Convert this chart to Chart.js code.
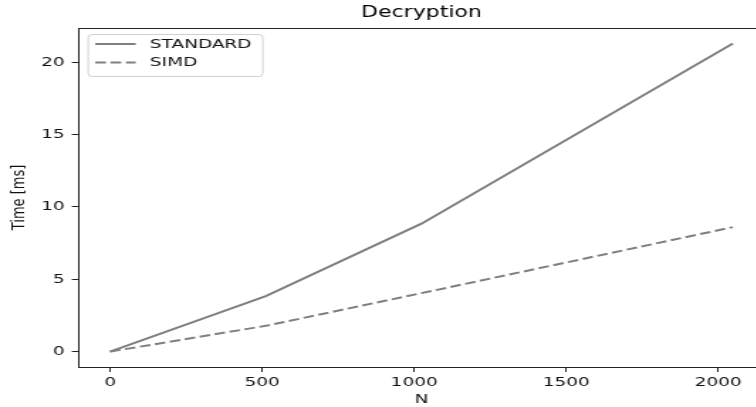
<!DOCTYPE html>
<html>
<head>
<meta charset="utf-8">
<script src="https://cdn.jsdelivr.net/npm/chart.js@4.4.1/dist/chart.umd.min.js"></script>
<style>
  html, body { margin: 0; padding: 0; background: #fff; overflow: hidden; }
  #wrap { width: 544px; height: 407px; transform: scaleX(1.42); transform-origin: 0 0; }
</style>
</head>
<body>
<div id="wrap"><canvas id="decChart" width="544" height="407"></canvas></div>
<script>
// Decryption timings
const nValues = [0, 512, 1024, 2048];
const standardMs = [0, 3.84, 8.84, 21.3];
const simdMs = [0, 1.78, 4.04, 8.6];
const xTicks = [0, 500, 1000, 1500, 2000];
const yTicks = [0, 5, 10, 15, 20];

const lineGray = "#7f7f7f";
const font = "'DejaVu Sans', sans-serif";

// legend drawn inside the plot, top left, matplotlib style
const boxLegend = {
  id: "boxLegend",
  afterDraw(chart) {
    const ctx = chart.ctx;
    const a = chart.chartArea;
    ctx.save();
    // frame (top/right spines)
    ctx.strokeStyle = "#222";
    ctx.lineWidth = 1;
    ctx.beginPath();
    ctx.moveTo(a.left, a.top + 0.5);
    ctx.lineTo(a.right, a.top + 0.5);
    ctx.lineTo(a.right, a.bottom);
    ctx.stroke();

    const x0 = a.left + 6.5, y0 = 34.5, w = 123, h = 42;
    ctx.fillStyle = "rgba(255,255,255,0.8)";
    ctx.strokeStyle = "#d0d0d0";
    ctx.beginPath();
    ctx.roundRect(x0, y0, w, h, 3);
    ctx.fill();
    ctx.stroke();

    chart.data.datasets.forEach((ds, i) => {
      const y = 44 + i * 18.5;
      ctx.strokeStyle = ds.borderColor;
      ctx.lineWidth = ds.borderWidth;
      ctx.setLineDash(ds.borderDash || []);
      ctx.beginPath();
      ctx.moveTo(a.left + 11.5, y);
      ctx.lineTo(a.left + 40, y);
      ctx.stroke();
      ctx.setLineDash([]);
      ctx.fillStyle = "#111";
      ctx.font = "13px " + font;
      ctx.textBaseline = "middle";
      ctx.fillText(ds.label, a.left + 50, y + 0.5);
    });
    ctx.restore();
  },
};

new Chart(document.getElementById("decChart").getContext("2d"), {
  type: "line",
  data: {
    datasets: [
      {
        label: "STANDARD",
        data: nValues.map((n, i) => ({ x: n, y: standardMs[i] })),
        borderColor: lineGray,
        borderWidth: 2,
        pointRadius: 0,
        tension: 0,
      },
      {
        label: "SIMD",
        data: nValues.map((n, i) => ({ x: n, y: simdMs[i] })),
        borderColor: lineGray,
        borderWidth: 2,
        borderDash: [7.5, 3.3],
        pointRadius: 0,
        tension: 0,
      },
    ],
  },
  options: {
    responsive: false,
    animation: false,
    devicePixelRatio: 1,
    layout: { padding: { left: 6, right: 6, top: 0, bottom: 0 } },
    plugins: {
      legend: { display: false },
      tooltip: { enabled: false },
      title: {
        display: true,
        text: "Decryption",
        color: "#000",
        fullSize: false,
        font: { family: font, size: 15.5, weight: "normal", lineHeight: 1.2 },
        padding: { top: 4, bottom: 5.4 },
      },
    },
    scales: {
      x: {
        type: "linear",
        min: -102.4,
        max: 2150.4,
        afterBuildTicks: (s) => { s.ticks = xTicks.map((v) => ({ value: v })); },
        afterFit: (s) => { s.height = 40; },
        ticks: { color: "#111", padding: 3, maxRotation: 0, callback: (v) => String(v), font: { family: font, size: 13 } },
        grid: { drawOnChartArea: false, drawTicks: true, tickLength: 5, color: "#222", tickWidth: 1 },
        border: { display: true, color: "#222", width: 1 },
        title: { display: true, text: "N", color: "#111", padding: 0, font: { family: font, size: 13, lineHeight: 1.2 } },
      },
      y: {
        min: -1.065,
        max: 22.365,
        afterBuildTicks: (s) => { s.ticks = yTicks.map((v) => ({ value: v })); },
        afterFit: (s) => { s.width = 49.6; },
        ticks: { color: "#111", padding: 5, callback: (v) => String(v), font: { family: font, size: 13 } },
        grid: { drawOnChartArea: false, drawTicks: true, tickLength: 5, color: "#222", tickWidth: 1 },
        border: { display: true, color: "#222", width: 1 },
        title: { display: true, text: "Time [ms]", color: "#111", padding: 0, font: { family: font, size: 13, lineHeight: 1.2 } },
      },
    },
  },
  plugins: [boxLegend],
});
</script>
</body>
</html>
